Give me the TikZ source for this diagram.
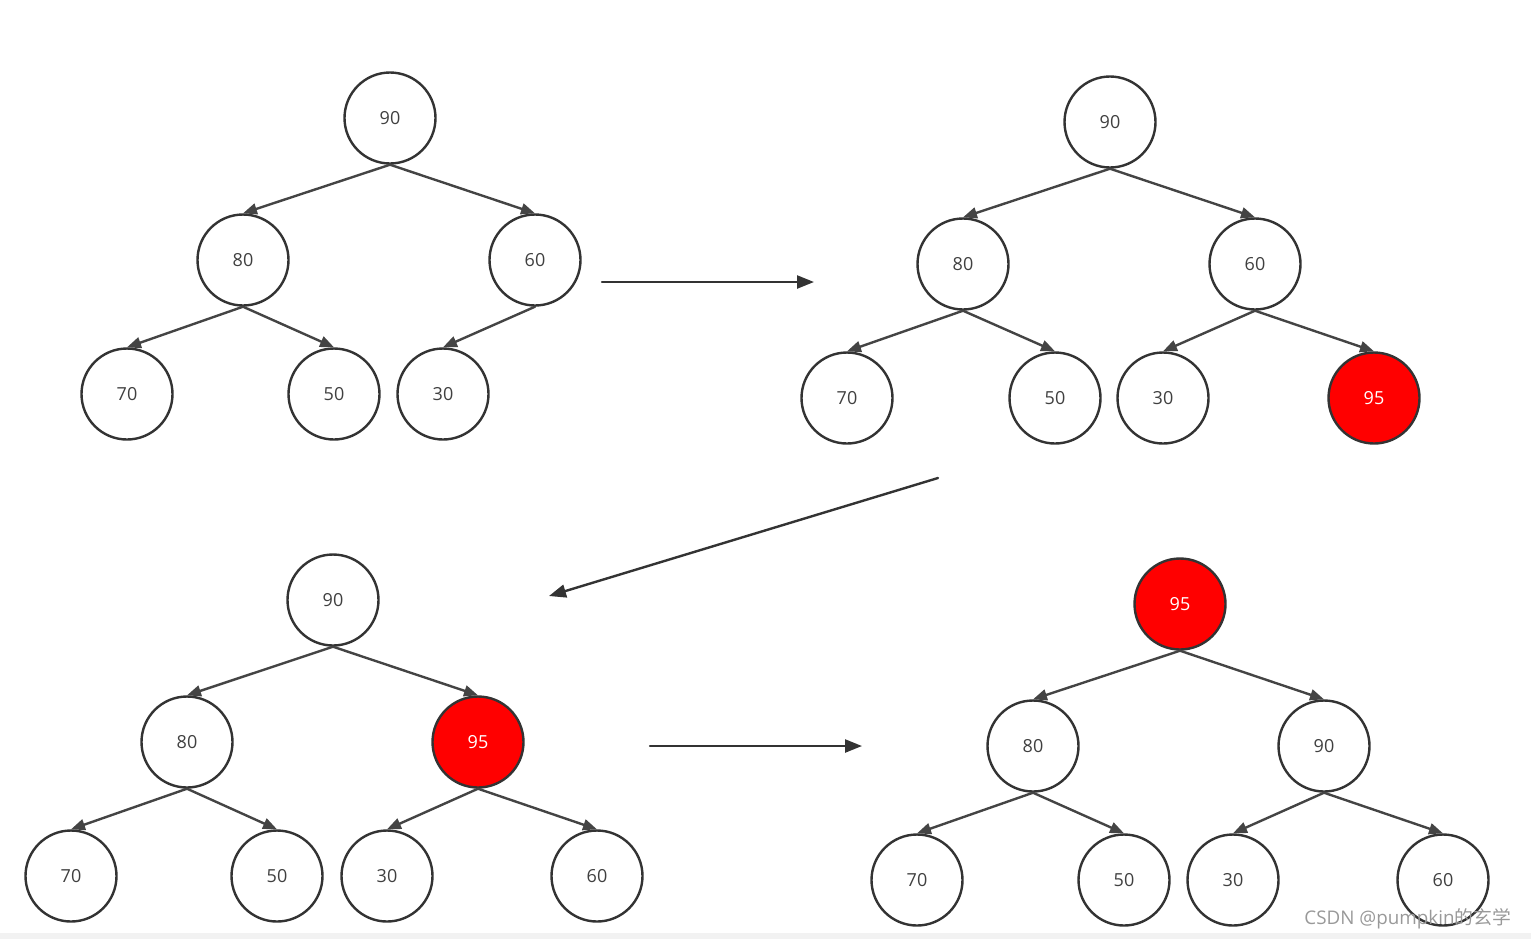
\documentclass[tikz,border=0pt]{standalone}
\usepackage{fontspec}
\setsansfont{Open Sans}
\newfontfamily\cjkfont{Noto Sans CJK SC}
\usepackage{xcolor}
\definecolor{hpline}{HTML}{333333}
\definecolor{hpedge}{HTML}{444444}
\definecolor{hptext}{HTML}{404040}
\definecolor{hpred}{HTML}{FF0000}
\definecolor{hpbar}{HTML}{F2F2F2}
\usetikzlibrary{arrows.meta}
\tikzset{
  every picture/.style={line cap=round, line join=round},
  key/.style={circle, draw=hpline, line width=1.2pt, fill=white,
    minimum size=45.5pt, inner sep=0pt,
    font=\sffamily\fontsize{9}{10}\selectfont, text=hptext},
  newkey/.style={key, fill=hpred, text=white},
  edge/.style={hpedge, line width=1.2pt, -{Triangle[length=7pt,width=5.5pt]}},
  move/.style={hpline, line width=1.2pt, -{Triangle[length=8.5pt,width=6.5pt]}},
  mark lbl/.style={font=\sffamily\fontsize{9.4}{10}\selectfont, text=black!40, anchor=east},
}

\begin{document}
\begin{tikzpicture}[x=0.5pt, y=-0.5pt]
\useasboundingbox (0,0) rectangle (1531,939);
\fill[hpbar] (0,933) rectangle (1531,939);
% first heap
\node[key] (a90) at (390,118) {90};
\node[key] (a80) at (243,260) {80};
\node[key] (a60) at (535,260) {60};
\node[key] (a70) at (127,394) {70};
\node[key] (a50) at (334,394) {50};
\node[key] (a30) at (443,394) {30};
\foreach \p/\c in {a90/a80, a90/a60, a80/a70, a80/a50, a60/a30}
  \draw[edge] (\p.south) -- (\c.north);
% 95 added at the end
\node[key] (b90) at (1110,122) {90};
\node[key] (b80) at (963,264) {80};
\node[key] (b60) at (1255,264) {60};
\node[key] (b70) at (847,398) {70};
\node[key] (b50) at (1055,398) {50};
\node[key] (b30) at (1163,398) {30};
\node[newkey] (b95) at (1374,398) {95};
\foreach \p/\c in {b90/b80, b90/b60, b80/b70, b80/b50, b60/b30, b60/b95}
  \draw[edge] (\p.south) -- (\c.north);
% swapped with 60
\node[key] (c90) at (333,600) {90};
\node[key] (c80) at (187,742) {80};
\node[newkey] (c95) at (478,742) {95};
\node[key] (c70) at (71,876) {70};
\node[key] (c50) at (277,876) {50};
\node[key] (c30) at (387,876) {30};
\node[key] (c60) at (597,876) {60};
\foreach \p/\c in {c90/c80, c90/c95, c80/c70, c80/c50, c95/c30, c95/c60}
  \draw[edge] (\p.south) -- (\c.north);
% swapped with 90
\node[newkey] (d95) at (1180,604) {95};
\node[key] (d80) at (1033,746) {80};
\node[key] (d90) at (1324,746) {90};
\node[key] (d70) at (917,880) {70};
\node[key] (d50) at (1124,880) {50};
\node[key] (d30) at (1233,880) {30};
\node[key] (d60) at (1443,880) {60};
\foreach \p/\c in {d95/d80, d95/d90, d80/d70, d80/d50, d90/d30, d90/d60}
  \draw[edge] (\p.south) -- (\c.north);
% steps
\coordinate (s1a) at (602,282);
\coordinate (s1b) at (814,282);
\coordinate (s2a) at (938,478);
\coordinate (s2b) at (549,596);
\coordinate (s3a) at (650,746);
\coordinate (s3b) at (862,746);
\draw[move] (s1a) -- (s1b);
\draw[move] (s2a) -- (s2b);
\draw[move] (s3a) -- (s3b);
\node[mark lbl] (wm) at (1518,919) {CSDN @pumpkin{\cjkfont 的玄学}};
\end{tikzpicture}
\end{document}
